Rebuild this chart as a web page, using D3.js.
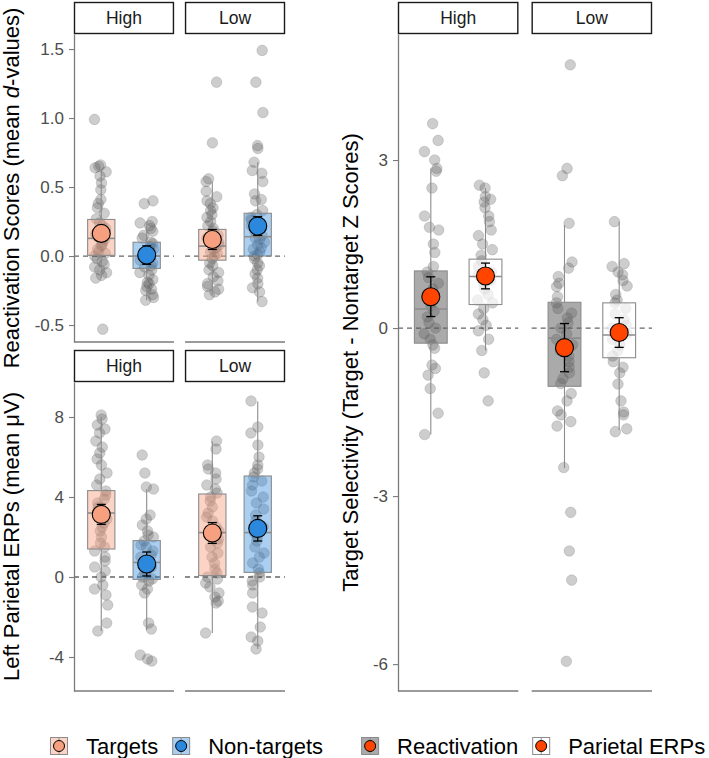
<!DOCTYPE html>
<html>
<head>
<meta charset="utf-8">
<script src="https://cdn.jsdelivr.net/npm/d3@7"></script>
<style>
  body { margin: 0; background: #fff; }
  svg { font-family: "Liberation Sans", Arial, Helvetica, sans-serif; }
</style>
</head>
<body>
<div id="chart"></div>
<script>
// facet and group labels
var conditions = ["High", "Low"];
var stimGroups = ["Targets", "Non-targets"];
var measureGroups = ["Reactivation", "Parietal ERPs"];

// reactivation scores (mean d-values), one value per participant
var reactHighTargets = [0.99, 0.66, 0.65, 0.64, 0.61, 0.58, 0.53, 0.48, 0.41, 0.38, 0.35, 0.31, 0.27, 0.24, 0.22, 0.20, 0.18, 0.16, 0.14, 0.12, 0.10, 0.08, 0.07, 0.05, 0.03, 0.02, 0.00, -0.02, -0.04, -0.06, -0.08, -0.10, -0.12, -0.14, -0.16, -0.53];
var reactHighNon = [0.40, 0.38, 0.25, 0.24, 0.22, 0.20, 0.18, 0.15, 0.13, 0.10, 0.09, 0.07, 0.05, 0.03, 0.02, 0.00, -0.01, -0.03, -0.05, -0.07, -0.08, -0.10, -0.12, -0.14, -0.17, -0.19, -0.20, -0.22, -0.24, -0.25, -0.28, -0.30, -0.32];
var reactLowTargets = [1.26, 0.82, 0.56, 0.54, 0.47, 0.43, 0.40, 0.38, 0.35, 0.33, 0.30, 0.28, 0.25, 0.22, 0.20, 0.18, 0.15, 0.13, 0.10, 0.08, 0.06, 0.05, 0.03, 0.02, 0.00, -0.02, -0.05, -0.07, -0.10, -0.12, -0.15, -0.18, -0.20, -0.22, -0.24, -0.26, -0.28];
var reactLowNon = [1.49, 1.26, 1.04, 0.80, 0.78, 0.68, 0.62, 0.60, 0.54, 0.45, 0.41, 0.40, 0.33, 0.30, 0.28, 0.26, 0.22, 0.20, 0.18, 0.15, 0.13, 0.12, 0.10, 0.08, 0.06, 0.05, 0.03, 0.01, 0.00, -0.02, -0.05, -0.07, -0.10, -0.13, -0.16, -0.20, -0.23, -0.26, -0.33];

// left parietal ERPs (mean uV)
var erpHighTargets = [8.1, 7.9, 7.6, 7.4, 7.2, 6.8, 6.5, 6.2, 5.9, 5.6, 5.2, 4.9, 4.6, 4.3, 4.1, 3.9, 3.7, 3.5, 3.3, 3.1, 2.9, 2.7, 2.5, 2.3, 2.0, 1.7, 1.5, 1.3, 1.0, 0.8, 0.5, 0.3, 0.0, -0.4, -0.6, -0.9, -1.4, -2.3, -2.7];
var erpHighNon = [6.1, 5.2, 4.5, 4.4, 3.1, 2.9, 2.6, 2.3, 2.1, 2.0, 1.8, 1.6, 1.5, 1.3, 1.1, 1.0, 0.8, 0.6, 0.5, 0.3, 0.2, 0.0, -0.1, -0.2, -0.4, -0.6, -0.8, -2.3, -2.6, -3.9, -4.1, -4.2];
var erpLowTargets = [6.8, 6.4, 5.6, 5.4, 5.2, 4.9, 4.6, 4.4, 4.2, 4.0, 3.8, 3.5, 3.2, 3.0, 2.8, 2.5, 2.3, 2.1, 1.9, 1.7, 1.5, 1.2, 1.0, 0.7, 0.4, 0.2, 0.0, -0.1, -0.3, -0.5, -0.8, -1.0, -1.2, -1.3, -2.8];
var erpLowNon = [8.8, 7.5, 7.2, 6.6, 6.0, 5.6, 5.4, 5.2, 5.0, 4.8, 4.6, 4.3, 4.0, 3.7, 3.4, 3.1, 2.8, 2.5, 2.2, 2.0, 1.8, 1.5, 1.2, 1.0, 0.7, 0.4, 0.2, 0.0, -0.2, -0.4, -0.8, -1.5, -1.8, -2.5, -3.0, -3.2, -3.6];

// target selectivity (target - nontarget z scores)
var selHighReact = [3.65, 3.35, 3.15, 3.0, 2.85, 2.8, 2.5, 2.0, 1.8, 1.75, 1.5, 1.35, 1.1, 1.0, 0.9, 0.8, 0.7, 0.6, 0.5, 0.4, 0.3, 0.2, 0.1, 0.0, -0.1, -0.2, -0.3, -0.36, -0.66, -0.72, -0.84, -1.08, -1.52, -1.9];
var selHighErp = [2.55, 2.5, 2.35, 2.3, 2.25, 2.15, 2.0, 1.9, 1.75, 1.65, 1.5, 1.4, 1.3, 1.2, 1.1, 1.0, 0.95, 0.85, 0.8, 0.7, 0.6, 0.5, 0.45, 0.35, 0.25, 0.15, 0.05, -0.05, -0.2, -0.4, -0.8, -1.3];
var selLowReact = [4.7, 2.85, 2.72, 1.87, 1.18, 1.07, 0.92, 0.8, 0.74, 0.56, 0.45, 0.35, 0.27, 0.18, 0.09, 0.0, -0.1, -0.2, -0.3, -0.4, -0.5, -0.6, -0.7, -0.8, -0.9, -0.99, -1.17, -1.3, -1.48, -1.55, -1.67, -1.75, -2.49, -3.29, -3.98, -4.5, -5.95];
var selLowErp = [1.9, 1.15, 1.1, 1.0, 0.95, 0.85, 0.75, 0.6, 0.5, 0.45, 0.35, 0.25, 0.15, 0.05, 0.0, -0.1, -0.2, -0.3, -0.4, -0.5, -0.6, -0.7, -0.8, -1.0, -1.3, -1.5, -1.55, -1.8, -1.85];

// box summaries: [q1, median, q3, whisker low, whisker high, mean, se]
// order: High/first group, High/second group, Low/first group, Low/second group
var reactStats = [
    [0.005, 0.128, 0.265, -0.16, 0.62, 0.164, 0.04],
    [-0.09, 0.0, 0.10, -0.32, 0.25, 0.007, 0.067],
    [-0.03, 0.072, 0.193, -0.28, 0.54, 0.12, 0.072],
    [0.0, 0.14, 0.31, -0.33, 0.68, 0.217, 0.068]
];
var erpStats = [
    [1.4, 3.2, 4.32, -2.7, 8.0, 3.13, 0.5],
    [-0.12, 0.73, 1.82, -2.65, 4.4, 0.65, 0.6],
    [0.07, 2.22, 4.15, -2.8, 6.77, 2.2, 0.52],
    [0.23, 2.22, 5.05, -3.6, 8.77, 2.43, 0.63]
];
var selStats = [
    [-0.27, 0.34, 1.02, -1.9, 2.85, 0.56, 0.355],
    [0.42, 0.92, 1.23, -0.4, 2.5, 0.93, 0.23],
    [-1.04, -0.18, 0.46, -2.5, 1.84, -0.35, 0.43],
    [-0.53, -0.125, 0.45, -1.82, 1.9, -0.08, 0.265]
];

var reactTicks = [-0.5, 0, 0.5, 1.0, 1.5];
var erpTicks = [-4, 0, 4, 8];
var selTicks = [-6, -3, 0, 3];

(function(){
    var width = 709;
    var height = 758;

    var axisGrey = '#7a7a7a';
    var pointColour = '#595959';

    var svg = d3.select("#chart")
        .append("svg")
            .attr("width", width)
            .attr("height", height);

    var stimStyle = {
        'Targets': {box: '#f7a080', boxOpacity: 0.45, mean: '#f7a080'},
        'Non-targets': {box: '#2c88dc', boxOpacity: 0.4, mean: '#2c88dc'},
        'Reactivation': {box: '#555555', boxOpacity: 0.5, mean: '#ff4500'},
        'Parietal ERPs': {box: '#ffffff', boxOpacity: 0.7, mean: '#ff4500'}
    };

    var panels = [
        {
            left: 74, right: 285, top: 34, bottom: 342, stripTop: 2,
            domain: [-0.623, 1.609], ticks: reactTicks, format: d3.format('.1f'),
            groups: stimGroups, stats: reactStats,
            points: [[reactHighTargets, reactHighNon], [reactLowTargets, reactLowNon]],
            titleX: 19, title: ['Reactivation Scores (mean ', 'd', '-values)']
        },
        {
            left: 74, right: 285, top: 382, bottom: 691, stripTop: 350,
            domain: [-5.7, 9.75], ticks: erpTicks, format: d3.format('d'),
            groups: stimGroups, stats: erpStats,
            points: [[erpHighTargets, erpHighNon], [erpLowTargets, erpLowNon]],
            titleX: 19, title: ['Left Parietal ERPs (mean \u03bcV)']
        },
        {
            left: 398, right: 652, top: 34, bottom: 691, stripTop: 2,
            domain: [-6.48, 5.25], ticks: selTicks, format: d3.format('d'),
            groups: measureGroups, stats: selStats,
            points: [[selHighReact, selHighErp], [selLowReact, selLowErp]],
            titleX: 358, title: ['Target Selectivity (Target - Nontarget Z Scores)']
        }
    ];

    // ggplot-ish jitter, fixed seed so the picture is stable
    var seed = 11;
    function rand() {
        seed = (seed * 16807) % 2147483647;
        return (seed - 1) / 2147483646;
    }

    panels.forEach(function(p){
        var g = svg.append('g');

        var yScale = d3.scaleLinear()
            .domain(p.domain)
            .range([p.bottom, p.top]);

        var facetScale = d3.scaleBand()
            .domain(conditions)
            .range([p.left, p.right])
            .paddingInner(0.1);

        conditions.forEach(function(cond, ci){
            var fx = facetScale(cond);
            var bw = facetScale.bandwidth();

            var xScale = d3.scalePoint()
                .domain(p.groups)
                .range([fx, fx + bw])
                .padding(0.6);
            var step = xScale.step();
            var boxW = step * 0.6;

            // strip
            g.append('rect')
                .attr('x', fx + 0.5)
                .attr('y', p.stripTop + 0.5)
                .attr('width', bw - 1)
                .attr('height', p.top - p.stripTop - 1)
                .attr('fill', '#fff')
                .attr('stroke', '#1a1a1a')
                .attr('stroke-width', 1.4);

            g.append('text')
                .attr('x', fx + bw / 2)
                .attr('y', (p.stripTop + p.top) / 2)
                .attr('dy', '0.36em')
                .attr('text-anchor', 'middle')
                .attr('font-size', '17.5px')
                .attr('fill', '#1a1a1a')
                .text(cond);

            // x axis line, no ticks
            g.append('line')
                .attr('x1', fx)
                .attr('x2', fx + bw)
                .attr('y1', p.bottom)
                .attr('y2', p.bottom)
                .attr('stroke', axisGrey)
                .attr('stroke-width', 1.3);

            // zero reference
            g.append('line')
                .attr('x1', fx)
                .attr('x2', fx + bw)
                .attr('y1', yScale(0))
                .attr('y2', yScale(0))
                .attr('stroke', '#666')
                .attr('stroke-width', 1.3)
                .attr('stroke-dasharray', '5,4');

            p.groups.forEach(function(grp, gi){
                var cx = xScale(grp);
                var vals = p.points[ci][gi];
                var s = p.stats[ci * 2 + gi];
                var style = stimStyle[grp];

                g.selectAll(null)
                    .data(vals)
                    .enter()
                    .append('circle')
                    .attr('cx', function(){
                        return cx + (rand() * 2 - 1) * 0.15 * step;
                    })
                    .attr('cy', function(d){ return yScale(d); })
                    .attr('r', 5.3)
                    .attr('fill', pointColour)
                    .attr('fill-opacity', 0.3)
                    .attr('stroke', pointColour)
                    .attr('stroke-opacity', 0.25)
                    .attr('stroke-width', 0.8);

                // whiskers
                g.append('line')
                    .attr('x1', cx).attr('x2', cx)
                    .attr('y1', yScale(s[2])).attr('y2', yScale(s[4]))
                    .attr('stroke', '#8c8c8c')
                    .attr('stroke-width', 1.1);
                g.append('line')
                    .attr('x1', cx).attr('x2', cx)
                    .attr('y1', yScale(s[0])).attr('y2', yScale(s[3]))
                    .attr('stroke', '#8c8c8c')
                    .attr('stroke-width', 1.1);

                g.append('rect')
                    .attr('x', cx - boxW / 2)
                    .attr('y', yScale(s[2]))
                    .attr('width', boxW)
                    .attr('height', yScale(s[0]) - yScale(s[2]))
                    .attr('fill', style.box)
                    .attr('fill-opacity', style.boxOpacity)
                    .attr('stroke', '#8c8c8c')
                    .attr('stroke-width', 1.1);

                g.append('line')
                    .attr('x1', cx - boxW / 2).attr('x2', cx + boxW / 2)
                    .attr('y1', yScale(s[1])).attr('y2', yScale(s[1]))
                    .attr('stroke', '#8c8c8c')
                    .attr('stroke-width', 1.6);

                // mean +/- se
                var eb = g.append('g').attr('stroke', '#000').attr('stroke-width', 1.3);
                eb.append('line')
                    .attr('x1', cx).attr('x2', cx)
                    .attr('y1', yScale(s[5] - s[6])).attr('y2', yScale(s[5] + s[6]));
                [s[5] - s[6], s[5] + s[6]].forEach(function(v){
                    eb.append('line')
                        .attr('x1', cx - 4.5).attr('x2', cx + 4.5)
                        .attr('y1', yScale(v)).attr('y2', yScale(v));
                });

                g.append('circle')
                    .attr('cx', cx)
                    .attr('cy', yScale(s[5]))
                    .attr('r', 9)
                    .attr('fill', style.mean)
                    .attr('stroke', '#000')
                    .attr('stroke-width', 1.1);
            });
        });

        // y axis
        var yAxis = d3.axisLeft(yScale)
            .tickValues(p.ticks)
            .tickSize(5)
            .tickSizeOuter(0)
            .tickPadding(5)
            .tickFormat(function(d){ return p.format(d).replace('\u2212', '-'); });

        var ax = g.append('g')
            .attr('transform', 'translate(' + p.left + ',0)')
            .call(yAxis);
        ax.select('.domain').attr('stroke', axisGrey).attr('stroke-width', 1.3);
        ax.selectAll('.tick line').attr('stroke', axisGrey).attr('stroke-width', 1.1);
        ax.selectAll('.tick text')
            .attr('fill', '#4d4d4d')
            .attr('font-size', '17px')
            .attr('font-family', '"Liberation Sans", Arial, Helvetica, sans-serif');

        // axis title
        var t = g.append('text')
            .attr('transform', 'translate(' + p.titleX + ',' + ((p.top + p.bottom) / 2) + ') rotate(-90)')
            .attr('text-anchor', 'middle')
            .attr('font-size', '22px')
            .attr('fill', '#000');
        p.title.forEach(function(part, i){
            t.append('tspan')
                .attr('font-style', i === 1 ? 'italic' : null)
                .text(part);
        });
    });

    // legends
    var legendItems = [
        {label: 'Targets', gap: 0},
        {label: 'Non-targets', gap: 14},
        {label: 'Reactivation', gap: 38},
        {label: 'Parietal ERPs', gap: 14}
    ];
    var legend = svg.append('g')
        .attr('transform', 'translate(0,746)');
    var lx = 50;
    var keySize = 18;
    legendItems.forEach(function(item){
        lx += item.gap;
        var style = stimStyle[item.label];
        var key = legend.append('g').attr('transform', 'translate(' + lx + ',' + (-keySize / 2) + ')');
        key.append('rect')
            .attr('x', 0.5).attr('y', 0.5)
            .attr('width', keySize - 1).attr('height', keySize - 1)
            .attr('fill', style.box)
            .attr('fill-opacity', style.boxOpacity)
            .attr('stroke', '#8c8c8c')
            .attr('stroke-width', 1);
        key.append('line')
            .attr('x1', keySize / 2).attr('x2', keySize / 2)
            .attr('y1', 0).attr('y2', keySize)
            .attr('stroke', '#8c8c8c');
        key.append('circle')
            .attr('cx', keySize / 2).attr('cy', keySize / 2)
            .attr('r', 5.5)
            .attr('fill', style.mean)
            .attr('stroke', '#000')
            .attr('stroke-width', 1);
        var txt = legend.append('text')
            .attr('x', lx + keySize + 18)
            .attr('y', 0)
            .attr('dy', '0.36em')
            .attr('font-size', '22px')
            .attr('fill', '#000')
            .text(item.label);
        lx += keySize + 18 + txt.node().getComputedTextLength();
    });
})();
</script>
</body>
</html>
